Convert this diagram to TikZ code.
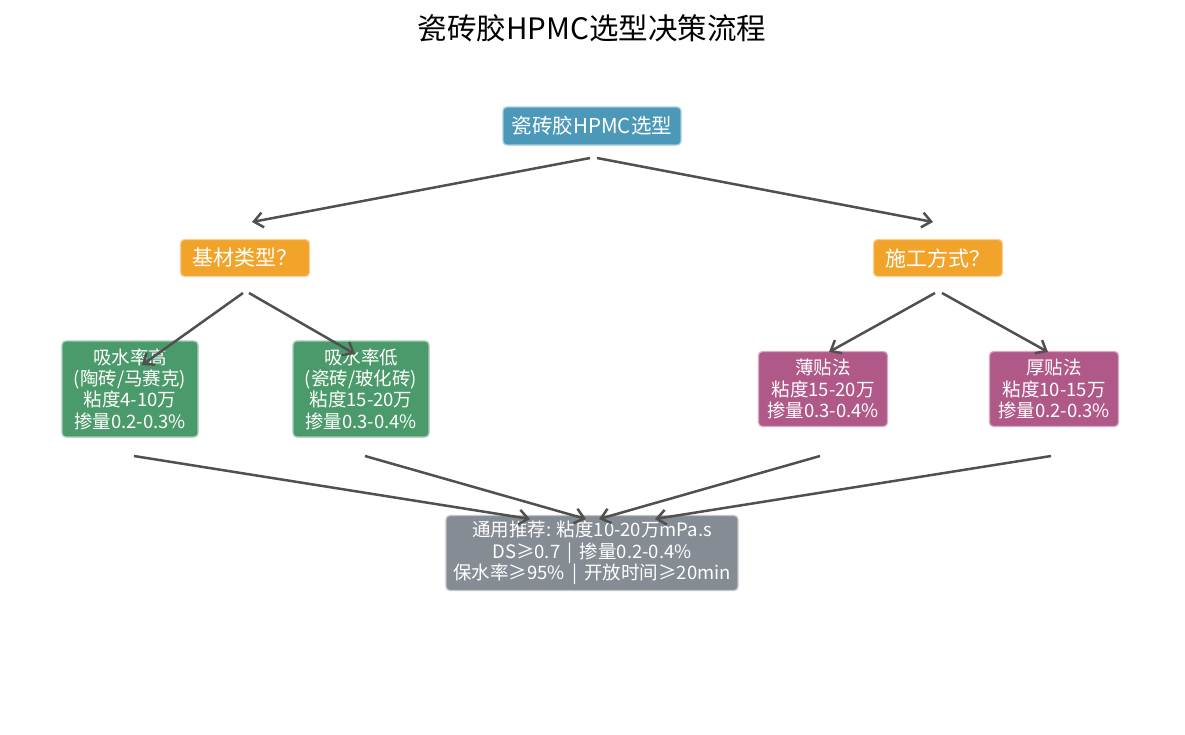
\documentclass[tikz,border=0pt]{standalone}
\usepackage{fontspec}
\setmainfont{Noto Sans CJK SC}
\usetikzlibrary{arrows.meta}
\definecolor{cblue}{RGB}{76,152,184}
\definecolor{corange}{RGB}{242,163,42}
\definecolor{cgreen}{RGB}{75,154,107}
\definecolor{cmag}{RGB}{176,88,136}
\definecolor{cgray}{RGB}{133,140,148}
\definecolor{carrow}{RGB}{80,80,80}
\tikzset{
  box/.style={rounded corners=4pt, text=white, align=center, inner sep=0pt, line width=1.2pt},
  rootbox/.style={box, fill=cblue, draw=cblue!50!white, minimum width=178pt, minimum height=38pt, font=\fontsize{20.5}{24}\selectfont},
  qbox/.style={box, fill=corange, draw=corange!50!white, minimum width=129pt, minimum height=37pt, font=\fontsize{21}{24}\selectfont},
  gbox/.style={box, fill=cgreen, draw=cgreen!50!white, minimum width=136pt, minimum height=96pt, font=\fontsize{18.5}{21.3}\selectfont},
  mbox/.style={box, fill=cmag, draw=cmag!50!white, minimum width=129pt, minimum height=75pt, font=\fontsize{18.5}{21.3}\selectfont},
  sbox/.style={box, fill=cgray, draw=cgray!50!white, minimum width=292pt, minimum height=75pt, font=\fontsize{18.5}{21.3}\selectfont},
  conn/.style={draw=carrow, line width=2.5pt, -{Straight Barb[length=9pt,width=15pt]}},
}
\begin{document}
\begin{tikzpicture}[x=1pt,y=-1pt]
\useasboundingbox (0,0) rectangle (1185,734);
\node[font=\fontsize{29.5}{32}\selectfont] (title) at (592,28) {瓷砖胶HPMC选型决策流程};
\node[rootbox] (root) at (592,126) {瓷砖胶HPMC选型};
\node[qbox] (q1) at (245,258) {基材类型？};
\node[qbox] (q2) at (938,258) {施工方式？};
\node[gbox] (g1) at (130,389) {吸水率高\\(陶砖/马赛克)\\粘度4-10万\\掺量0.2-0.3\%};
\node[gbox] (g2) at (361,389) {吸水率低\\(瓷砖/玻化砖)\\粘度15-20万\\掺量0.3-0.4\%};
\node[mbox] (m1) at (823,389) {薄贴法\\粘度15-20万\\掺量0.3-0.4\%};
\node[mbox] (m2) at (1054,389) {厚贴法\\粘度10-15万\\掺量0.2-0.3\%};
\node[sbox] (s) at (592,553) {通用推荐: 粘度10-20万mPa.s\\DS≥0.7 \,|\, 掺量0.2-0.4\%\\保水率≥95\% \,|\, 开放时间≥20min};
% connector anchor points
\coordinate (r1) at (590,158); \coordinate (r2) at (597,158);
\coordinate (q1in) at (252,222); \coordinate (q2in) at (933,222);
\coordinate (q1a) at (243,293); \coordinate (q1b) at (249,293);
\coordinate (q2a) at (935,293); \coordinate (q2b) at (942,293);
\coordinate (g1in) at (142,365); \coordinate (g2in) at (355,354);
\coordinate (m1in) at (829,352); \coordinate (m2in) at (1048,352);
\coordinate (g1o) at (134,456); \coordinate (g2o) at (365,456);
\coordinate (m1o) at (820,456); \coordinate (m2o) at (1051,456);
\coordinate (s1) at (530,519); \coordinate (s2) at (586,519);
\coordinate (s3) at (599,519); \coordinate (s4) at (655,519);
\draw[conn] (r1) -- (q1in);
\draw[conn] (r2) -- (q2in);
\draw[conn] (q1a) -- (g1in);
\draw[conn] (q1b) -- (g2in);
\draw[conn] (q2a) -- (m1in);
\draw[conn] (q2b) -- (m2in);
\draw[conn] (g1o) -- (s1);
\draw[conn] (g2o) -- (s2);
\draw[conn] (m1o) -- (s3);
\draw[conn] (m2o) -- (s4);
\end{tikzpicture}
\end{document}
